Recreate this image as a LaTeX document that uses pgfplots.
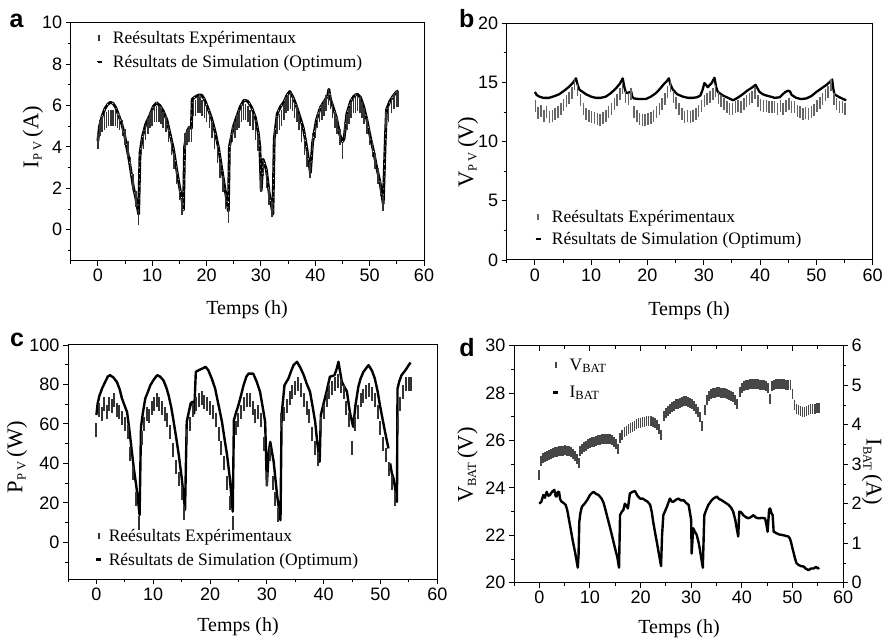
\documentclass[border=0pt]{standalone}
\usepackage{fontspec}
\setmainfont{Liberation Serif}
\newfontfamily\arial{Liberation Sans}
\usepackage{pgfplots}
\pgfplotsset{compat=1.18}
\usepackage{pgfplotstable}

\newcommand\tickfont{\arial\fontsize{18}{20}\selectfont}
\newcommand\labfont{\fontsize{20}{22}\selectfont}
\newcommand\ylabfont{\fontsize{22.5}{24}\selectfont}
\newcommand\legfont{\fontsize{17.5}{19}\selectfont}
\newcommand\letterfont{\arial\bfseries\fontsize{25}{27}\selectfont}
\newcommand\sub[1]{\textsubscript{\fontsize{12.5}{13}\selectfont #1}}

% ---------- (a) PV current ----------
\pgfplotstableread{
x y
0.0 4.3
0.4 4.9
0.8 5.1
1.2 5.2
1.6 5.3
2.0 5.4
2.4 5.4
2.8 5.4
3.2 5.4
3.6 5.3
4.0 5.2
4.5 4.9
5.0 4.5
5.5 3.9
6.0 3.1
6.5 2.3
7.0 1.5
7.5 0.6
8.0 4.0
8.4 4.3
8.8 4.7
9.2 5.0
9.6 5.3
10.0 5.4
10.4 5.6
10.8 5.6
11.2 5.6
11.6 5.5
12.0 5.3
12.5 5.1
13.0 4.6
13.5 4.0
14.0 3.3
14.5 2.6
15.0 1.8
15.5 1.1
16.0 4.3
16.4 4.5
16.8 4.6
17.2 4.6
17.6 5.9
18.0 5.9
18.4 6.0
18.8 6.0
19.2 5.9
19.6 5.8
20.0 5.6
20.5 5.3
21.0 4.8
21.5 4.3
22.0 3.6
22.5 2.9
23.0 2.2
23.5 1.4
24.0 0.7
24.4 4.2
24.8 4.6
25.2 4.8
25.6 5.2
26.0 5.3
26.4 5.6
26.8 5.7
27.2 5.7
27.6 5.6
28.0 5.4
28.5 5.2
29.0 4.7
29.5 4.2
30.0 2.2
30.5 3.0
31.0 2.4
31.5 1.6
32.0 1.0
32.5 4.5
33.0 5.0
33.4 5.2
33.8 5.4
34.2 5.7
34.6 6.0
35.0 6.1
35.4 6.2
35.8 6.1
36.2 5.8
36.6 5.6
37.0 5.2
37.5 4.6
38.0 4.0
38.5 3.4
39.0 2.9
39.5 4.3
40.0 4.8
40.4 5.3
40.8 5.6
41.2 5.7
41.6 5.9
42.0 6.1
42.4 6.4
42.8 6.2
43.2 5.8
43.6 5.3
44.0 5.0
44.5 4.5
45.0 3.8
45.4 4.8
45.8 5.2
46.2 5.5
46.6 5.8
47.0 6.0
47.4 6.0
47.8 6.1
48.2 6.0
48.6 5.8
49.0 5.5
49.5 5.0
50.0 4.5
50.5 3.9
51.0 3.3
51.5 2.6
52.0 2.0
52.5 1.3
53.0 5.3
53.5 5.6
54.0 6.0
54.5 6.2
55.0 6.3
55.3 6.3
}\expA

\pgfplotstableread{
x y
0.0 4.3
0.3 5.0
0.8 5.5
1.3 5.85
1.8 6.05
2.3 6.15
2.8 6.1
3.3 5.9
3.8 5.55
4.4 5.1
4.9 4.6
5.3 4.0
5.8 3.3
6.5 2.1
7.0 1.5
7.5 0.75
7.75 3.7
8.2 4.5
8.8 5.1
9.6 5.55
10.2 5.95
10.8 6.13
11.4 6.0
12.0 5.75
12.7 5.3
13.3 4.6
13.9 3.9
14.5 2.9
15.0 2.1
15.5 1.4
15.75 0.95
15.95 4.0
16.4 4.7
16.8 4.95
17.2 4.9
17.35 6.3
17.8 6.4
18.5 6.5
19.1 6.5
19.6 6.3
20.2 5.9
20.9 5.4
21.6 4.7
22.2 3.95
22.7 3.1
23.3 2.1
23.8 1.3
24.0 0.9
24.2 4.0
24.9 4.95
25.6 5.5
26.2 5.95
26.9 6.26
27.6 6.2
28.3 5.9
29.0 5.4
29.5 4.7
29.8 4.0
30.05 1.9
30.4 3.4
31.0 2.9
31.5 1.8
32.2 0.75
32.45 4.4
33.0 5.6
33.6 5.95
34.2 6.15
34.8 6.5
35.3 6.68
35.9 6.4
36.5 6.0
37.1 5.5
37.8 4.9
38.4 4.0
38.8 3.3
39.1 2.75
39.5 4.2
40.2 5.3
40.8 5.8
41.4 6.1
41.9 6.3
42.3 6.5
42.5 6.78
42.8 6.3
43.3 5.9
43.9 5.4
44.5 4.6
45.0 4.25
45.3 4.4
45.8 5.6
46.5 6.2
47.1 6.45
47.7 6.55
48.3 6.4
48.9 5.95
49.5 5.3
50.1 4.5
50.7 3.8
51.3 3.0
51.9 2.3
52.5 1.25
52.9 4.5
53.1 5.8
53.7 6.2
54.3 6.45
54.9 6.65
55.3 6.7
}\simA

% ---------- (b) PV voltage ----------
\pgfplotstableread{
x y
0.1 13.0
0.6 12.4
1.1 12.6
1.6 12.2
2.1 12.5
2.6 12.1
3.1 12.2
3.6 12.3
4.1 12.5
4.6 12.8
5.1 13.1
5.6 13.4
6.1 13.7
6.6 14.1
7.0 14.9
7.6 14.4
8.1 13.5
8.6 12.8
9.1 12.3
9.6 12.2
10.1 12.1
10.6 12.0
11.1 11.9
11.6 11.8
12.1 12.0
12.6 12.2
13.1 12.5
13.6 12.8
14.1 13.2
14.6 13.5
15.1 14.0
15.6 14.5
16.1 13.8
16.6 13.6
17.1 14.0
17.6 12.5
18.1 12.2
18.6 11.9
19.1 11.8
19.6 11.8
20.1 11.9
20.6 12.0
21.1 12.2
21.6 12.5
22.1 12.8
22.6 13.2
23.1 13.6
23.6 14.2
24.1 14.7
24.6 13.8
25.1 13.3
25.6 12.8
26.1 12.3
26.6 12.1
27.1 12.2
27.6 12.1
28.1 12.2
28.6 12.3
29.1 12.6
29.6 13.0
30.1 13.4
30.6 13.6
31.1 13.8
31.6 14.0
32.1 14.3
32.6 13.7
33.1 13.4
33.6 13.2
34.1 12.9
34.6 12.8
35.1 12.8
35.6 12.9
36.1 13.0
36.6 12.9
37.1 13.2
37.6 13.4
38.1 13.6
38.6 13.8
39.1 14.1
39.6 13.4
40.1 13.1
40.6 13.0
41.1 13.0
41.6 12.9
42.1 12.9
42.6 12.9
43.1 12.8
43.6 13.0
44.1 12.8
44.6 13.0
45.1 13.2
45.6 12.9
46.1 12.9
46.6 12.6
47.1 12.5
47.6 12.3
48.1 12.4
48.6 12.3
49.1 12.5
49.6 12.7
50.1 13.0
50.6 13.3
51.1 13.6
51.6 13.9
52.1 14.2
52.6 14.8
53.1 13.6
53.6 13.2
54.1 12.9
54.6 12.9
55.1 12.8
}\expB

\pgfplotstableread{
x y
0.0 14.2
0.3 13.95
0.8 13.8
1.5 13.7
2.5 13.7
3.5 13.85
4.3 14.0
5.2 14.3
6.1 14.65
6.8 15.0
7.3 15.35
7.6 14.8
7.9 14.4
8.5 14.2
9.1 14.0
10.0 13.8
10.8 13.7
11.7 13.7
12.6 13.8
13.5 14.1
14.4 14.5
15.1 14.9
15.6 15.35
15.9 14.6
16.2 14.1
16.7 14.15
17.1 14.25
17.3 13.8
17.6 13.65
18.5 13.6
19.7 13.6
20.6 13.8
21.5 14.1
22.2 14.45
22.8 14.8
23.4 15.1
23.8 15.35
24.1 14.8
24.5 14.4
25.3 14.0
26.3 13.8
27.2 13.7
28.0 13.7
28.8 13.75
29.4 13.9
29.8 14.4
30.1 14.95
30.4 14.8
30.7 14.6
31.0 14.75
31.4 14.95
31.9 15.4
32.2 14.6
32.5 14.2
33.4 13.9
34.3 13.7
35.2 13.5
36.0 13.7
36.9 14.0
37.7 14.3
38.5 14.55
39.2 14.8
39.6 14.45
39.9 14.2
40.5 14.0
41.1 13.9
41.9 13.8
42.6 13.7
43.5 13.75
44.0 14.0
44.5 14.2
45.0 14.3
45.3 14.25
45.6 13.95
46.4 13.7
47.3 13.6
48.2 13.65
49.1 13.85
50.0 14.2
50.9 14.5
51.8 14.8
52.4 15.05
52.8 15.25
53.0 14.5
53.2 14.0
54.1 13.75
55.0 13.55
55.3 13.5
}\simB

% ---------- (c) PV power ----------
\pgfplotstableread{
x y
0.0 57
0.4 67
0.9 65
1.3 70
1.8 66
2.2 70
2.7 69
3.1 72
3.6 67
4.0 66
4.5 63
5.0 60
5.5 56
6.0 45
6.5 35
7.0 22
7.5 10
8.0 53
8.4 60
8.9 65
9.3 64
9.8 68
10.2 70
10.7 72
11.1 70
11.6 68
12.0 65
12.5 62
13.0 56
13.5 47
14.0 38
14.5 32
15.0 25
15.5 15
16.0 54
16.5 60
17.0 67
17.5 70
18.0 72
18.5 73
19.0 71
19.5 70
20.0 68
20.5 66
21.0 62
21.5 55
22.0 48
22.5 40
23.0 30
23.5 20
24.0 10
24.5 58
25.0 62
25.5 66
26.0 70
26.5 72
27.0 72
27.5 68
28.0 64
28.5 66
29.0 62
29.5 50
30.0 32
30.5 45
31.0 30
31.5 22
32.0 14
32.5 62
33.0 65
33.5 69
34.0 73
34.5 76
35.0 78
35.5 80
36.0 77
36.5 72
37.0 68
37.5 64
38.0 55
38.5 48
39.0 42
39.5 60
40.0 66
40.5 72
41.0 76
41.5 78
42.0 80
42.5 82
43.0 79
43.5 76
44.0 68
44.5 62
45.0 48
45.5 60
46.0 66
46.5 72
47.0 74
47.5 76
48.0 77
48.5 75
49.0 72
49.5 66
50.0 58
50.5 50
51.0 44
51.5 37
52.0 30
52.5 22
53.0 60
53.5 70
54.0 76
54.5 80
55.0 80
55.3 80
}\expC

\pgfplotstableread{
x y
0.0 64.5
0.2 70
0.5 74
1.0 78
1.5 81
2.0 84
2.4 84.7
3.0 83.5
3.6 81.3
4.1 77.5
4.5 72.9
5.0 69
5.4 66
5.8 57
6.2 47
6.6 37
7.0 29
7.3 22
7.6 13.8
7.85 58.5
8.2 66
8.6 72.9
9.1 76.5
9.5 79.6
10.1 82.5
10.7 84.7
11.2 84
11.8 82.1
12.3 78.5
12.7 74.6
13.2 68
13.6 61.1
14.1 52
14.5 44.2
15.0 33
15.3 25
15.6 16.4
15.9 61.1
16.3 66.5
16.6 70.5
16.9 71.2
17.2 65.3
17.5 86.4
18.2 87.5
18.9 88.4
19.2 89
19.7 87.2
20.3 83
20.9 77.9
21.5 69.5
22.1 61.1
22.6 51.5
23.0 44.2
23.5 32
24.0 15.5
24.2 61.9
24.6 66
25.0 69.5
25.5 75
25.9 79.6
26.4 84
26.8 85.5
27.6 85.5
28.2 81.5
28.8 76.3
29.3 68
29.7 61.1
30.0 28.8
30.3 45
30.6 50.9
31.2 40.8
31.8 23.9
32.4 11.2
32.6 64.5
33.1 79.6
33.8 83
34.3 87
34.7 89.8
35.3 91.5
35.9 88.5
36.5 84.7
37.0 80.5
37.6 76.3
38.1 68
38.5 61.1
38.9 50
39.3 40.8
39.5 64.5
40.0 70.5
40.5 76.3
41.1 83.9
41.9 84.7
42.3 88
42.6 91.5
43.2 81.3
44.1 76.3
44.6 66.1
45.2 58.5
45.6 69.5
46.1 78.8
46.5 83
47.0 86.4
47.9 89.8
48.5 87
49.0 83
49.5 76.5
49.9 69.5
50.4 62
50.8 56
51.4 47.6
nan nan
51.7 40
52.0 35
52.3 32.3
52.6 27
52.9 20.5
53.0 77.9
53.3 81.5
53.7 84.7
54.2 86.5
54.6 88.1
55.0 90
55.3 91.1
}\simC

% ---------- (d) battery ----------
\pgfplotstableread{
x y
0.0 24.55
0.3 25.15
0.7 25.25
1.1 25.3
1.5 25.36
1.9 25.4
2.3 25.44
2.7 25.47
3.1 25.5
3.5 25.52
3.9 25.54
4.3 25.56
4.7 25.57
5.1 25.58
5.5 25.57
5.9 25.54
6.3 25.5
6.7 25.44
7.1 25.35
7.5 25.22
7.8 25.05
8.0 25.55
8.4 25.65
8.8 25.72
9.2 25.78
9.6 25.84
10.0 25.88
10.4 25.92
10.8 25.95
11.2 25.98
11.6 26.0
12.0 26.03
12.4 26.05
12.8 26.07
13.2 26.08
13.6 26.08
14.0 26.06
14.4 26.02
14.8 25.95
15.2 25.85
15.6 25.65
16.0 26.1
16.4 26.25
16.8 26.35
17.2 26.42
17.6 26.48
18.0 26.53
18.4 26.58
18.8 26.63
19.2 26.68
19.6 26.72
20.0 26.75
20.4 26.78
20.8 26.8
21.2 26.82
21.6 26.82
22.0 26.82
22.4 26.8
22.8 26.75
23.2 26.65
23.6 26.5
24.0 26.25
24.6 27.05
25.0 27.15
25.4 27.25
25.8 27.35
26.2 27.42
26.6 27.47
27.0 27.52
27.4 27.56
27.8 27.6
28.2 27.63
28.6 27.65
29.0 27.65
29.4 27.64
29.8 27.6
30.2 27.53
30.6 27.45
31.0 27.35
31.4 27.2
31.8 27.0
32.2 26.6
32.7 27.3
33.1 27.7
33.5 27.88
33.9 27.95
34.3 27.99
34.7 28.02
35.1 28.03
35.5 28.03
35.9 28.02
36.3 28.01
36.7 27.99
37.1 27.97
37.5 27.93
37.9 27.88
38.3 27.82
38.7 27.72
39.1 27.55
39.6 28.05
40.0 28.2
40.4 28.28
40.8 28.33
41.2 28.35
41.6 28.37
42.0 28.38
42.4 28.38
42.8 28.38
43.2 28.37
43.6 28.36
44.0 28.35
44.4 28.33
44.8 28.3
45.2 28.2
45.6 27.75
46.0 28.3
46.4 28.35
46.8 28.37
47.2 28.38
47.6 28.38
48.0 28.38
48.4 28.37
48.8 28.36
49.2 28.35
49.6 28.33
50.0 27.95
50.4 27.5
50.8 27.35
51.2 27.28
51.6 27.25
52.0 27.22
52.4 27.22
52.8 27.24
53.2 27.28
53.6 27.32
54.0 27.35
54.4 27.35
54.8 27.36
55.2 27.36
}\vbat

\pgfplotstableread{
x y
0.0 2.0
0.4 2.05
0.8 2.22
1.1 2.15
1.45 2.3
1.8 2.2
2.1 2.22
2.5 2.3
2.97 2.35
3.2 2.2
3.4 2.18
3.65 2.3
3.9 2.3
4.1 2.12
4.4 2.05
4.8 2.02
5.2 1.97
5.5 1.85
5.7 1.71
6.0 1.5
6.4 1.21
6.7 1.0
7.05 0.78
7.3 0.6
7.6 0.38
7.75 0.7
7.9 1.54
8.1 1.75
8.4 1.92
9.0 2.01
9.5 2.1
10.0 2.22
10.4 2.27
10.7 2.3
11.2 2.25
11.7 2.22
12.3 2.13
12.7 2.02
13.0 1.88
13.5 1.63
14.0 1.38
14.5 1.12
14.96 0.87
15.4 0.65
15.75 0.38
15.95 1.71
16.3 1.8
16.6 1.84
16.9 2.0
17.2 1.95
17.5 1.88
17.9 2.26
18.4 2.3
18.9 2.32
19.4 2.2
19.9 2.13
20.4 2.13
20.9 2.09
21.4 2.05
21.9 1.97
22.2 1.8
22.5 1.54
22.9 1.25
23.2 1.04
23.6 0.75
24.05 0.42
24.25 1.2
24.5 1.71
25.2 1.92
25.8 2.13
26.2 2.05
26.5 2.05
27.0 2.1
27.5 2.13
28.0 2.08
28.5 2.09
29.0 2.02
29.5 1.97
30.0 1.59
30.1 0.74
30.4 1.38
30.7 1.3
31.1 1.21
31.5 1.0
31.8 0.78
32.3 0.38
32.6 1.71
33.0 1.85
33.4 1.97
34.0 2.08
34.4 2.13
35.05 2.18
35.5 2.12
36.0 2.09
36.7 2.03
37.4 1.97
37.9 1.9
38.3 1.8
38.7 1.6
39.0 1.38
39.3 1.17
39.5 1.8
39.9 1.78
40.3 1.71
40.8 1.66
41.3 1.63
41.8 1.66
42.3 1.71
42.8 1.65
43.3 1.63
44.0 1.64
44.6 1.63
44.9 1.45
45.1 1.29
45.4 1.85
45.6 1.88
45.9 1.75
46.1 1.71
46.3 1.29
46.9 1.25
47.4 1.22
47.9 1.21
48.6 1.19
49.2 1.17
49.5 1.12
49.7 1.04
50.0 0.88
50.2 0.78
50.5 0.62
50.8 0.5
51.2 0.45
51.7 0.42
52.2 0.41
52.7 0.35
53.2 0.32
53.7 0.36
54.2 0.36
54.7 0.4
55.0 0.36
55.3 0.38
}\ibat

\pgfplotsset{
  panel/.style={
    scale only axis, anchor=south west,
    xmin=-5, xmax=60, xtick={0,10,...,60}, minor xtick={-5,5,...,55},
    tick align=outside, xtick pos=left, ytick pos=left,
    major tick length=5pt, minor tick length=3pt,
    axis line style={line width=1pt},
    every tick/.style={black, line width=0.9pt},
    tick label style={font=\tickfont},
    /pgf/number format/assume math mode=true,
    legend cell align=left,
    legend style={draw=none, fill=none, font=\legfont, inner sep=0pt,
      /tikz/every odd column/.append style={column sep=8pt}},
  },
  expmark/.style={only marks, mark=|, mark size=#1,
    mark options={line width=1.5pt},
    legend image code/.code={\draw[line width=1.4pt] (0.25em,-0.3em) -- (0.25em,0.3em);}},
  simline/.style={black, line width=2.6pt, line join=round,
    legend image code/.code={\draw[black, line width=2.6pt] (0em,0em) -- (0.5em,0em);}},
}

\begin{document}
\begin{tikzpicture}[x=1pt,y=1pt]
\useasboundingbox (0,0) rectangle (893,637);

% (a)
\begin{axis}[panel, at={(70.7pt,376.3pt)}, width=353.3pt, height=238pt,
  ymin=-1.5, ymax=10, ytick={0,2,...,10}, minor ytick={-1,1,...,9},
  legend style={at={(0.069,0.975)}, anchor=north west, row sep=6.5pt}]
\addplot[expmark=8pt, black!80] table {\expA};
\addlegendentry{Reésultats Expérimentaux}
\addplot[simline, line width=2.8pt, postaction={draw, white, line width=0.6pt, dash pattern=on 1.2pt off 5pt}] table {\simA};
\addlegendentry{Résultats de Simulation (Optimum)}
\end{axis}

% (b)
\begin{axis}[panel, at={(506.7pt,377pt)}, width=366pt, height=236.7pt,
  ymin=0, ymax=20, ytick={0,5,...,20}, minor ytick={2.5,7.5,...,17.5},
  legend style={at={(0.075,0.22)}, anchor=north west, row sep=4.5pt}]
\addplot[expmark=6pt, black!60] table {\expB};
\addlegendentry{Reésultats Expérimentaux}
\addplot[simline, line width=2.3pt] table {\simB};
\addlegendentry{Résultats de Simulation (Optimum)}
\end{axis}

% (c)
\begin{axis}[panel, at={(68pt,57.7pt)}, width=369.3pt, height=234.3pt,
  ymin=-18.75, ymax=100, ytick={0,20,...,100}, minor ytick={-10,10,...,90},
  unbounded coords=jump,
  legend style={at={(0.073,0.223)}, anchor=north west, row sep=6pt,
    /tikz/every odd column/.append style={column sep=4pt}}]
\addplot[expmark=7pt, black!80, mark options={line width=2pt}] table {\expC};
\addlegendentry{Reésultats Expérimentaux}
\addplot[simline, line width=2.4pt] table {\simC};
\addlegendentry{Résultats de Simulation (Optimum)}
\end{axis}

% (d) battery voltage, left axis
\begin{axis}[panel, at={(514pt,54.3pt)}, width=329pt, height=237pt,
  ymin=20, ymax=30, ytick={20,22,...,30}, minor ytick={21,23,...,29},
  legend style={at={(0.115,0.954)}, anchor=north west, row sep=10pt}]
\addplot[expmark=5pt, black!72, mark options={line width=1.7pt}] table {\vbat};
\addlegendentry{V\sub{BAT}}
\addlegendimage{simline}
\addlegendentry{I\sub{BAT}}
\end{axis}

% (d) battery current, right axis
\begin{axis}[panel, at={(514pt,54.3pt)}, width=329pt, height=237pt,
  axis x line=none, axis y line*=right, ytick pos=right,
  y axis line style={-},
  ymin=0, ymax=6, ytick={0,1,...,6}, minor ytick={0.5,1.5,...,5.5}]
\addplot[simline, line width=2.4pt] table {\ibat};
\end{axis}

% (d) inward ticks along the top edge
\begin{axis}[scale only axis, anchor=south west, at={(514pt,54.3pt)},
  width=329pt, height=237pt, xmin=-5, xmax=60, ymin=0, ymax=1,
  axis y line=none, axis x line*=top, x axis line style={-},
  xtick={0,10,...,60}, minor xtick={-5,5,...,55}, xticklabels={},
  tick align=inside, major tick length=5pt, minor tick length=3pt,
  axis line style={line width=1pt}, every tick/.style={black, line width=0.9pt}]
\end{axis}

% axis titles
\node[font=\labfont, anchor=base] at (247,322) {Temps (h)};
\node[font=\labfont, anchor=base] at (689,321) {Temps (h)};
\node[font=\labfont, anchor=base] at (238,5.5) {Temps (h)};
\node[font=\labfont, anchor=base] at (679,4) {Temps (h)};
\node[font=\ylabfont, rotate=90] at (33,500) {I\sub{P V}\,(A)};
\node[font=\ylabfont, rotate=90] at (468,485) {V\sub{P V}\,(V)};
\node[font=\ylabfont, rotate=90] at (17,180) {P\sub{P V}\,(W)};
\node[font=\ylabfont, rotate=90] at (467.5,172) {V\sub{BAT}\,(V)};
\node[font=\ylabfont, rotate=-90] at (872,165) {I\sub{BAT}\,(A)};

% panel letters
\node[font=\letterfont, anchor=base] at (16.7,609) {a};
\node[font=\letterfont, anchor=base] at (466.7,609.7) {b};
\node[font=\letterfont, anchor=base] at (17,290.3) {c};
\node[font=\letterfont, anchor=base] at (467,280.3) {d};
\end{tikzpicture}
\end{document}
